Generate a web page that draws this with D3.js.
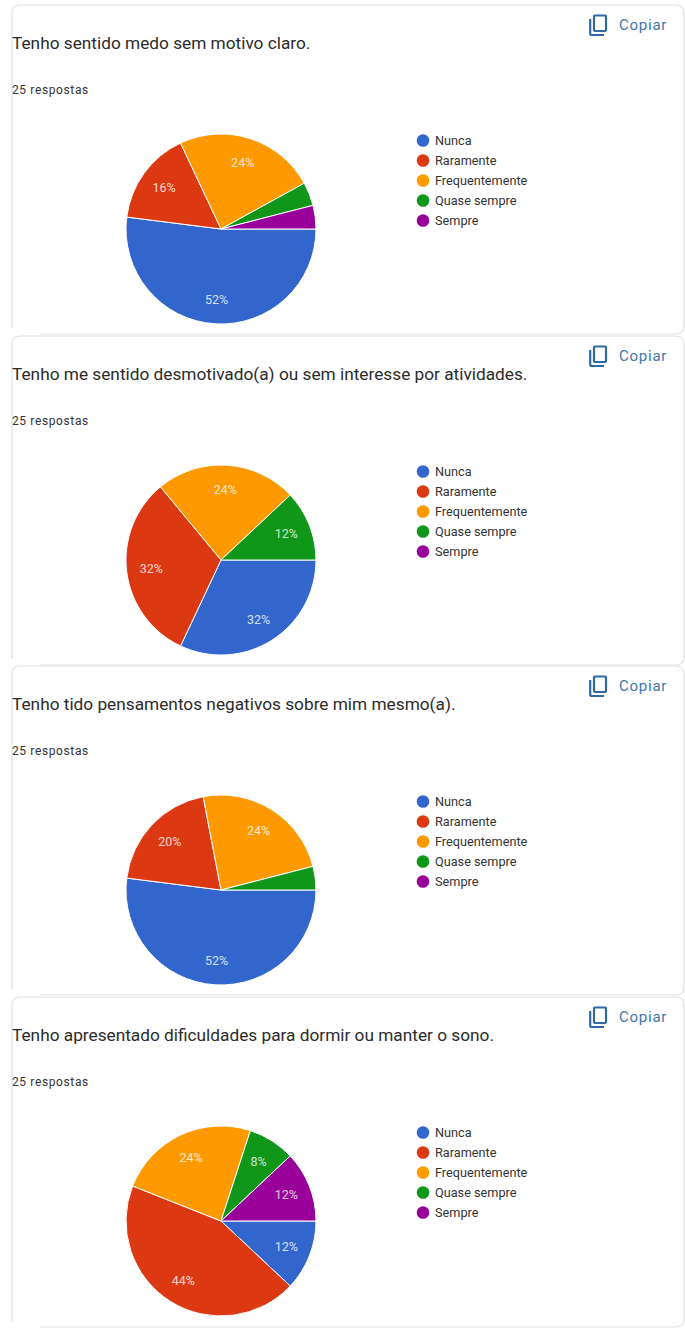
<!DOCTYPE html>
<html><head><meta charset="utf-8">
<script src="https://cdn.jsdelivr.net/npm/d3@7"></script>
<style>html,body{margin:0;padding:0;background:#fff}svg{display:block}text{font-family:Roboto,sans-serif}</style>
</head><body><svg id="c" width="685" height="1333"></svg>
<script>
const categories=["Nunca","Raramente","Frequentemente","Quase sempre","Sempre"];
const colors=["#3366cc","#dc3912","#ff9900","#109618","#990099"];
const titles=["Tenho sentido medo sem motivo claro.","Tenho me sentido desmotivado(a) ou sem interesse por atividades.","Tenho tido pensamentos negativos sobre mim mesmo(a).","Tenho apresentado dificuldades para dormir ou manter o sono."];
const responses="25 respostas";
const copyLabel="Copiar";
const values1=[52,16,24,4,4];
const values2=[32,32,24,12,0];
const values3=[52,20,24,4,0];
const values4=[12,44,24,8,12];
const allValues=[values1,values2,values3,values4];
const tops=[5,336,666,997];
const cardBottoms=[334,665,995,1327];
const svg=d3.select("#c");
const color=d3.scaleOrdinal(categories,colors);
const pie=d3.pie().sort(null).startAngle(Math.PI/2).endAngle(Math.PI*2.5);
const R=95;
const arc=d3.arc().innerRadius(0).outerRadius(R);
const labelArc=d3.arc().innerRadius(R*0.74).outerRadius(R*0.74);
const legendY=d3.scalePoint().domain(categories).range([134.5,214.5]);
allValues.forEach((vals,i)=>{
  const off=tops[i]-5;
  const t=tops[i], b=cardBottoms[i], r=8;
  const g=svg.append("g");
  g.append("path").attr("d",`M12 ${b-6}L12 ${t+r}Q12 ${t} ${12+r} ${t}L${684-r} ${t}Q684 ${t} 684 ${t+r}L684 ${b-r}Q684 ${b} ${684-r} ${b}L40 ${b}`)
    .attr("fill","#fff").attr("stroke","#dfe1e4").attr("stroke-width",1.2);
  g.append("text").attr("x",12).attr("y",49+off).attr("font-size",17.25).attr("fill","#2b2b2b").text(titles[i]);
  g.append("text").attr("x",12).attr("y",94+off).attr("font-size",12).attr("letter-spacing",0.62).attr("fill","#333").text(responses);
  const ic=g.append("g").attr("transform",`translate(589,${14+off})`).attr("fill","none").attr("stroke","#2f6aa8").attr("stroke-width",2.2);
  ic.append("rect").attr("x",5).attr("y",1.5).attr("width",12).attr("height",15.5).attr("rx",1);
  ic.append("path").attr("d","M1.2 5V19.5Q1.2 21 2.7 21H15");
  g.append("text").attr("x",619).attr("y",30+off).attr("font-size",15).attr("letter-spacing",0.75).attr("fill","#3f76ab").text(copyLabel);
  const p=g.append("g").attr("transform",`translate(221,${229+off})`);
  const arcs=pie(vals);
  p.selectAll("path").data(arcs.filter(d=>d.value>0)).join("path")
    .attr("d",arc).attr("fill",d=>color(categories[d.index])).attr("stroke","#fff").attr("stroke-width",1);
  p.selectAll("text").data(arcs.filter(d=>d.value>=8)).join("text")
    .attr("transform",d=>`translate(${labelArc.centroid(d)})`)
    .attr("text-anchor","middle").attr("dy","0.35em").attr("font-size",12.5).attr("fill","#fff").attr("fill-opacity",0.8)
    .text(d=>d.value+"%");
  const lg=g.append("g").attr("transform",`translate(0,${off})`);
  categories.forEach(c=>{
    lg.append("circle").attr("cx",423).attr("cy",legendY(c)+6).attr("r",6.3).attr("fill",color(c));
    lg.append("text").attr("x",435).attr("y",legendY(c)+10).attr("font-size",12.7).attr("fill","#333").text(c);
  });
});
</script></body></html>
